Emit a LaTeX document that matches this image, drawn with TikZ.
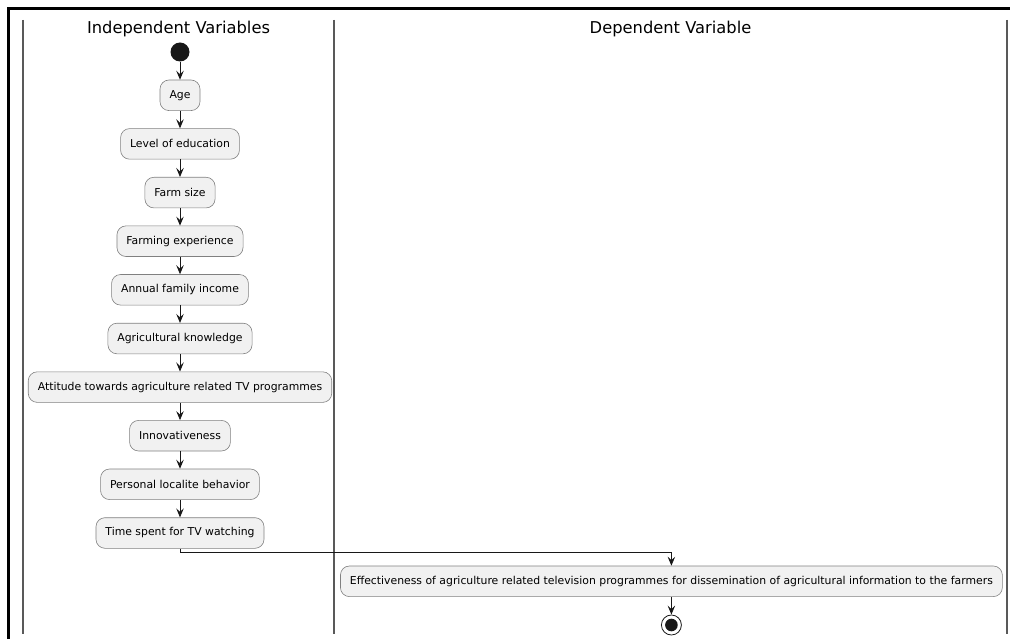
\documentclass[tikz,border=0pt]{standalone}
\usepackage{fontspec}
\setmainfont{DejaVu Sans}
\usetikzlibrary{arrows.meta}
\definecolor{actfill}{HTML}{F1F1F1}
\definecolor{actline}{HTML}{181818}

\begin{document}
\begin{tikzpicture}[x=1pt,y=-1pt,
  activity/.style={draw=actline!55, line width=0.6pt, fill=actfill,
    rounded corners=9pt, minimum height=30.6pt, inner xsep=9.5pt,
    font=\fontsize{10.85}{13}\selectfont},
  flow/.style={draw=actline, line width=0.8pt,
    -{Stealth[length=9pt,width=7.5pt,inset=3.5pt]}},
  lane/.style={draw=black!65, line width=2pt},
  lanetitle/.style={font=\fontsize{16.3}{19}\selectfont}]
  \useasboundingbox (0,0) rectangle (1010,639);
  % frame
  \draw[line width=3pt] (1010,8.5) -- (8.3,8.5) -- (8.3,639);
  % swimlanes
  \draw[lane] (22.7,20) -- (22.7,634);
  \draw[lane] (334.3,20) -- (334.3,634);
  \draw[lane] (1006.7,20) -- (1006.7,634);
  \node[lanetitle] (indep) at (178.5,29.3) {Independent Variables};
  \node[lanetitle] (dep) at (670.5,29.3) {Dependent Variable};
  % start
  \node[circle, fill=actline, minimum size=19pt, inner sep=0pt] (start) at (180,52) {};
  % independent variables
  \node[activity] (age) at (180,95.3) {Age};
  \node[activity] (edu) at (180,143.9) {Level of education};
  \node[activity] (farm) at (180,192.6) {Farm size};
  \node[activity] (exper) at (180,241.2) {Farming experience};
  \node[activity] (income) at (180,289.8) {Annual family income};
  \node[activity] (know) at (180,338.5) {Agricultural knowledge};
  \node[activity] (attit) at (180,387.1) {Attitude towards agriculture related TV programmes};
  \node[activity] (innov) at (180,435.7) {Innovativeness};
  \node[activity] (local) at (180,484.3) {Personal localite behavior};
  \node[activity] (tvtime) at (180,533) {Time spent for TV watching};
  % dependent variable
  \node[activity] (effect) at (671.4,581.3) {Effectiveness of agriculture related television programmes for dissemination of agricultural information to the farmers};
  % stop
  \node[circle, draw=actline, line width=0.8pt, fill=white, minimum size=20pt, inner sep=0pt] (stop) at (671.4,625) {};
  \fill[actline] (stop.center) circle (6.3);
  % flows
  \draw[flow] (start) -- (age);
  \draw[flow] (age) -- (edu);
  \draw[flow] (edu) -- (farm);
  \draw[flow] (farm) -- (exper);
  \draw[flow] (exper) -- (income);
  \draw[flow] (income) -- (know);
  \draw[flow] (know) -- (attit);
  \draw[flow] (attit) -- (innov);
  \draw[flow] (innov) -- (local);
  \draw[flow] (local) -- (tvtime);
  \draw[flow] (tvtime.south) -- ++(0,4) -| (effect.north);
  \draw[flow] (effect) -- (stop);
\end{tikzpicture}
\end{document}
